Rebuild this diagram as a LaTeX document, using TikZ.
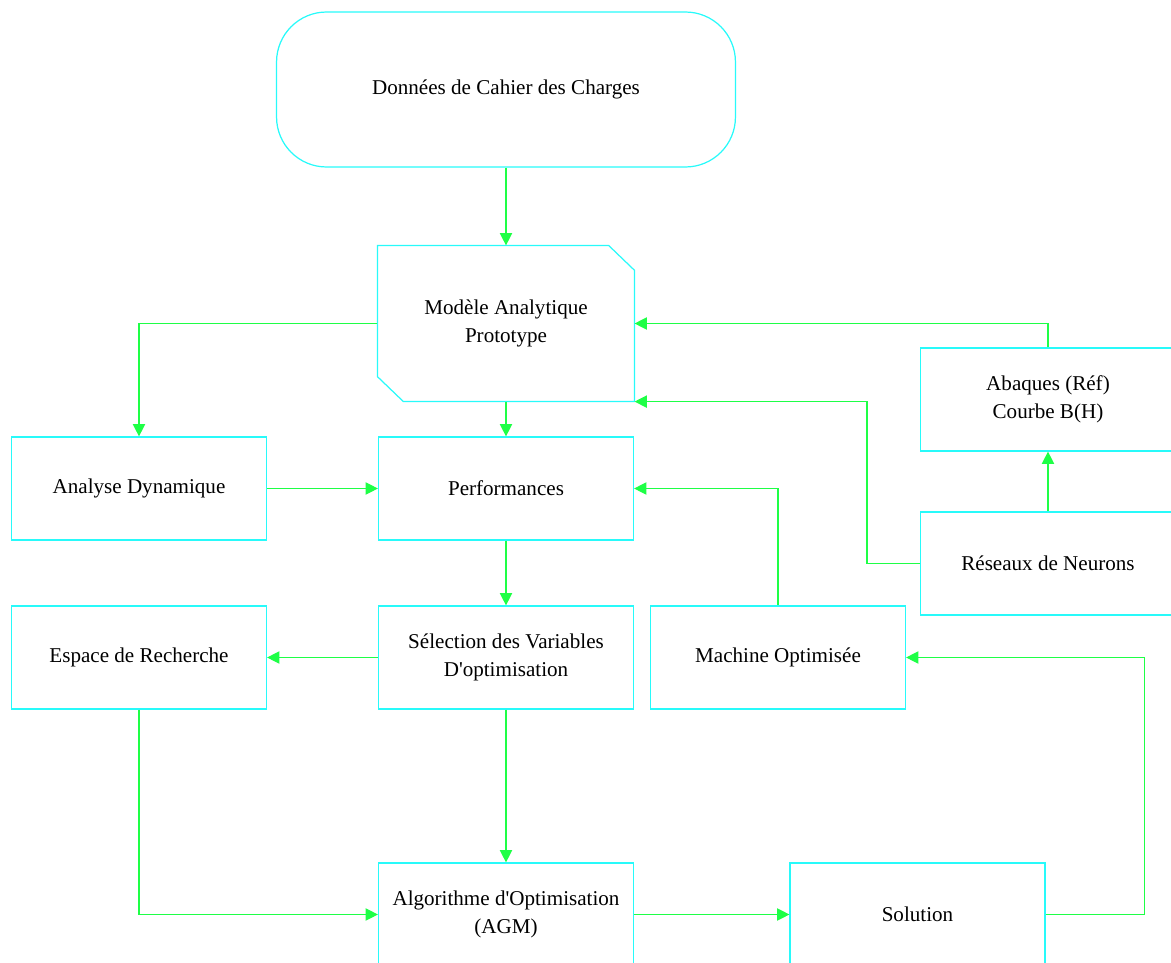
\documentclass[tikz,border=0pt]{standalone}
\usepackage{fontspec}
\setmainfont{Liberation Serif}
\usepackage{tikz}
\usetikzlibrary{arrows.meta}
\definecolor{cadreCyan}{RGB}{40,250,250}
\definecolor{flecheVert}{RGB}{30,255,70}

\begin{document}
\begin{tikzpicture}[x=0.02cm,y=-0.02cm,
    bloc/.style={draw=cadreCyan, line width=0.7pt, rectangle, minimum width=5.1cm, minimum height=2.06cm,
        inner sep=0pt, align=center, font=\fontsize{12}{16}\selectfont},
    fleche/.style={flecheVert, line width=0.7pt, -{Triangle[length=7pt,width=7pt]}}]

    \useasboundingbox (0,0) rectangle (1171,963);
    \clip (0,0) rectangle (1171,963);

    % top
    \node[bloc, minimum width=9.18cm, minimum height=3.1cm, rounded corners=1cm] (donnees) at (506,89.5) {Donn\'ees de Cahier des Charges};

    % analytic model (chamfered box)
    \node[bloc, draw=none, minimum width=5.12cm, minimum height=3.1cm] (modele) at (506,323.5) {Mod\`ele Analytique\\Prototype};
    \draw[cadreCyan, line width=0.7pt] (modele.north west) -- ([xshift=-0.52cm]modele.north east)
        -- ([yshift=-0.5cm]modele.north east) -- (modele.south east)
        -- ([xshift=0.52cm]modele.south west) -- ([yshift=0.5cm]modele.south west) -- cycle;

    % middle row
    \node[bloc] (analyse) at (139,488.5) {Analyse Dynamique};
    \node[bloc] (perf) at (506,488.5) {Performances};
    \node[bloc] (abaques) at (1048,399.5) {Abaques (R\'ef)\\Courbe B(H)};
    \node[bloc] (reseaux) at (1048,563.5) {R\'eseaux de Neurons};

    % selection row
    \node[bloc] (espace) at (139,657.5) {Espace de Recherche};
    \node[bloc] (selection) at (506,657.5) {S\'election des Variables\\D\textquotesingle optimisation};
    \node[bloc] (machine) at (778,657.5) {Machine Optimis\'ee};

    % bottom
    \node[bloc] (algo) at (506,914.5) {Algorithme d\textquotesingle Optimisation\\(AGM)};
    \node[bloc] (solution) at (917.5,914.5) {Solution};

    % connectors
    \draw[fleche] (donnees.south) -- (modele.north);
    \draw[fleche] (modele.west) -| (analyse.north);
    \draw[fleche] (modele.south) -- (perf.north);
    \draw[fleche] (analyse.east) -- (perf.west);
    \draw[fleche] (perf.south) -- (selection.north);
    \draw[fleche] (selection.west) -- (espace.east);
    \draw[fleche] (selection.south) -- (algo.north);
    \draw[fleche] (espace.south) |- (algo.west);
    \draw[fleche] (algo.east) -- (solution.west);
    \draw[fleche] (solution.east) -- ++(99,0) |- (machine.east);
    \draw[fleche] (machine.north) |- (perf.east);
    \draw[fleche] (reseaux.west) -- ++(-53,0) |- (modele.south east);
    \draw[fleche] (reseaux.north) -- (abaques.south);
    \draw[fleche] (abaques.north) |- (modele.east);

\end{tikzpicture}
\end{document}
